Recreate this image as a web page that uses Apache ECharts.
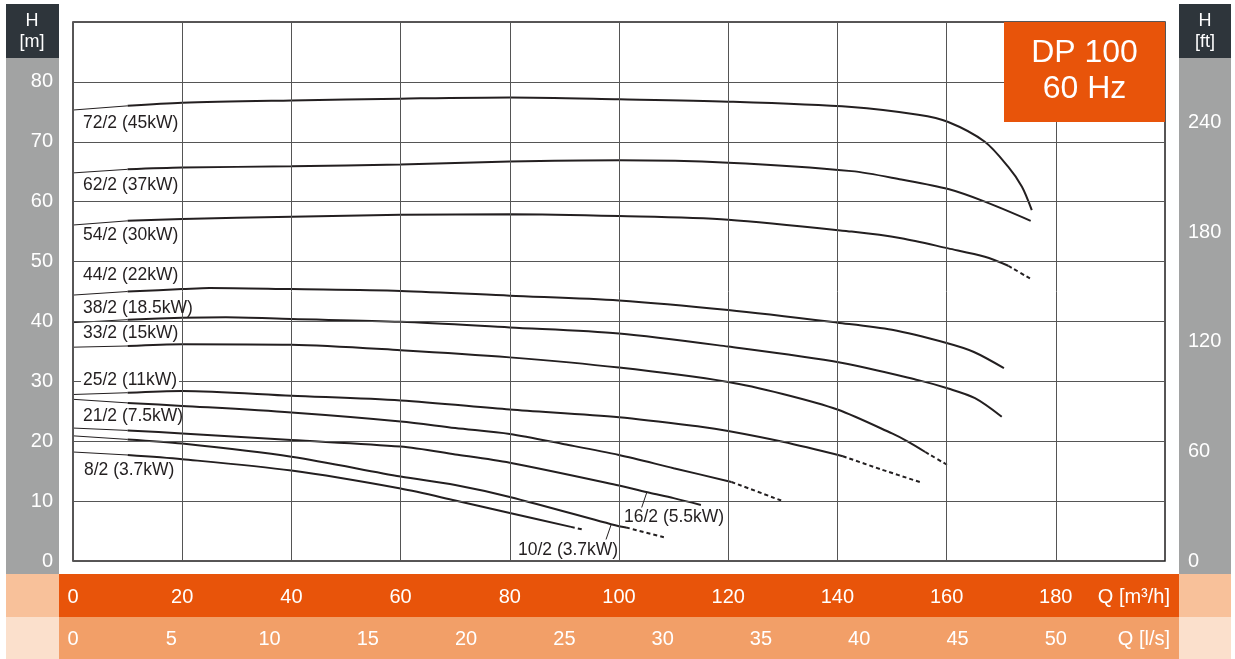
<!DOCTYPE html>
<html>
<head>
<meta charset="utf-8">
<script src="https://cdn.jsdelivr.net/npm/echarts@6/dist/echarts.min.js"></script>
<style>
html,body{margin:0;padding:0;background:#fff;}
#chart{width:1235px;height:659px;}
</style>
</head>
<body>
<div id="chart"></div>
<script>
// ---- data (Q in m3/h, H in m) ----
const c72 = [[0,75.3],[10,76.0],[20,76.5],[40,76.9],[60,77.2],[80,77.4],[100,77.1],[120,76.7],[142.6,75.8],[154.8,74.5],[160.3,73.3],[167,70.0],[171.3,65.8],[173.8,62.5],[175.6,58.6]];
const c62 = [[0,64.8],[10,65.4],[20,65.7],[40,65.9],[60,66.2],[80,66.7],[100,66.9],[120,66.5],[142.6,65.1],[151.7,63.7],[160.3,62.1],[167,60.0],[175.4,56.8]];
const c54 = [[0,56.1],[10,56.8],[20,57.1],[40,57.5],[60,57.8],[80,57.9],[100,57.6],[120,57.0],[142.6,55.0],[151.7,53.9],[160.3,52.2],[167,50.8],[171.3,49.3]];
const d54 = [[171.3,49.3],[175.4,47.1]];
const c44 = [[0,44.4],[10,45.0],[20,45.4],[25,45.6],[40,45.4],[60,45.1],[80,44.3],[100,43.5],[120,41.9],[140,39.8],[150,38.6],[160,36.4],[165,34.9],[170.5,32.2]];
const c38 = [[0,39.8],[10,40.3],[20,40.6],[28,40.7],[40,40.4],[60,39.95],[80,39.0],[100,38.0],[120,35.8],[140.7,33.1],[154.8,30.2],[160.3,28.8],[165.2,27.2],[170.1,24.1]];
const c33 = [[0,35.7],[10,35.9],[20,36.2],[40,36.1],[60,35.2],[80,34.0],[100,32.3],[120,29.9],[130,27.9],[140,25.3],[150,21.3],[153,19.9],[156.1,18.2]];
const d33 = [[156.1,18.2],[160.2,16.0]];
const c25 = [[0,27.8],[10,28.1],[20,28.4],[40,27.6],[60,26.8],[80,25.3],[100,24.0],[115,22.4],[120,21.7],[130,19.9],[141,17.5]];
const d25 = [[141,17.5],[148,15.3],[155.4,13.1]];
const c21 = [[0,27.0],[10,26.4],[20,25.9],[40,24.8],[60,23.3],[70,22.2],[80,21.2],[90,19.5],[100,17.7],[110,15.5],[120.6,13.2]];
const d21 = [[120.6,13.2],[129.7,10.1]];
const c16 = [[0,22.2],[10,21.8],[20,21.3],[40,20.2],[60,19.1],[70,17.8],[80,16.4],[100,12.6],[105.6,11.4],[110,10.5],[115,9.35]];
const c10 = [[0,20.9],[10,20.3],[20,19.6],[40,17.4],[60,14.1],[70,12.7],[80,10.7],[100,5.8],[101.3,5.6]];
const d10 = [[101.3,5.6],[108.3,3.95]];
const c8 = [[0,18.2],[10,17.7],[20,17.0],[40,15.1],[60,12.1],[70,10.1],[80,8.0],[91.2,5.7]];
const d8 = [[91.2,5.7],[93.6,5.2]];

const curveLabels = ['72/2 (45kW)','62/2 (37kW)','54/2 (30kW)','44/2 (22kW)','38/2 (18.5kW)','33/2 (15kW)','25/2 (11kW)','21/2 (7.5kW)','8/2 (3.7kW)','16/2 (5.5kW)','10/2 (3.7kW)'];
const flowTicksM3h = [0,20,40,60,80,100,120,140,160,180];
const flowTicksLs = [0,5,10,15,20,25,30,35,40,45,50];
const headTicksM = [0,10,20,30,40,50,60,70,80];
const headTicksFt = [0,60,120,180,240];
const title = ['DP 100','60 Hz'];

// ---- build ----
const INK = '#231f20';
const FONT = 'Liberation Sans, Arial, sans-serif';
const series = [];
function addCurve(pts, dashed) {
  const head = pts.filter(p => p[0] <= 10);
  const body = pts.filter(p => p[0] >= 10);
  series.push({type:'line', xAxisIndex:0, yAxisIndex:0, data:head, symbol:'none', silent:true,
    lineStyle:{color:INK, width:1}, z:5});
  series.push({type:'line', xAxisIndex:0, yAxisIndex:0, data:body, symbol:'none', silent:true,
    smooth:0.3, lineStyle:{color:INK, width:2}, z:5});
  if (dashed) series.push({type:'line', xAxisIndex:0, yAxisIndex:0, data:dashed, symbol:'none', silent:true,
    smooth:0.3, lineStyle:{color:INK, width:2, type:[4,3]}, z:5});
}
addCurve(c72); addCurve(c62); addCurve(c54, d54); addCurve(c44); addCurve(c38);
addCurve(c33, d33); addCurve(c25, d25); addCurve(c21, d21); addCurve(c16);
addCurve(c10, d10); addCurve(c8, d8);

const M_TO_FT = 3.28084;
const LS_PER_M3H = 1/3.6;

const labelPos = [[83,123],[83,185],[83,235],[83,275],[83,308],[83,333],[83,380],[83,416],[84,470],[624,517],[518,550]];
const graphics = [
  // bands
  {type:'rect', z:-5, shape:{x:6,y:4,width:53,height:54}, style:{fill:'#2e353b'}},
  {type:'rect', z:-5, shape:{x:6,y:58,width:53,height:516}, style:{fill:'#a2a3a3'}},
  {type:'rect', z:-5, shape:{x:1179,y:4,width:52,height:54}, style:{fill:'#2e353b'}},
  {type:'rect', z:-5, shape:{x:1179,y:58,width:52,height:516}, style:{fill:'#a2a3a3'}},
  {type:'rect', z:-5, shape:{x:6,y:574,width:53,height:43}, style:{fill:'#f8c19a'}},
  {type:'rect', z:-5, shape:{x:59,y:574,width:1120,height:43}, style:{fill:'#e8540a'}},
  {type:'rect', z:-5, shape:{x:1179,y:574,width:52,height:43}, style:{fill:'#f8c19a'}},
  {type:'rect', z:-5, shape:{x:6,y:617,width:53,height:42}, style:{fill:'#fbe0cc'}},
  {type:'rect', z:-5, shape:{x:59,y:617,width:1120,height:42}, style:{fill:'#f29f68'}},
  {type:'rect', z:-5, shape:{x:1179,y:617,width:52,height:42}, style:{fill:'#fbe0cc'}},
  // unit headers
  {type:'text', z:50, style:{x:32,y:21,text:'H',fill:'#fff',font:'18px '+FONT,align:'center',verticalAlign:'middle'}},
  {type:'text', z:50, style:{x:32,y:42,text:'[m]',fill:'#fff',font:'18px '+FONT,align:'center',verticalAlign:'middle'}},
  {type:'text', z:50, style:{x:1205,y:21,text:'H',fill:'#fff',font:'18px '+FONT,align:'center',verticalAlign:'middle'}},
  {type:'text', z:50, style:{x:1205,y:42,text:'[ft]',fill:'#fff',font:'18px '+FONT,align:'center',verticalAlign:'middle'}},
  {type:'text', z:50, style:{x:1170,y:597,text:'Q [m³/h]',fill:'#fff',font:'20px '+FONT,align:'right',verticalAlign:'middle'}},
  {type:'text', z:50, style:{x:1170,y:639,text:'Q [l/s]',fill:'#fff',font:'20px '+FONT,align:'right',verticalAlign:'middle'}},
  // title box
  {type:'rect', z:60, shape:{x:1004,y:22,width:161,height:100}, style:{fill:'#e8540a'}},
  {type:'text', z:61, style:{x:1084.5,y:53,text:title[0],fill:'#fff',font:'32px '+FONT,align:'center',verticalAlign:'middle'}},
  {type:'text', z:61, style:{x:1084.5,y:89,text:title[1],fill:'#fff',font:'32px '+FONT,align:'center',verticalAlign:'middle'}},
  // leader lines
  {type:'line', z:20, shape:{x1:646.7,y1:492.7,x2:641.7,y2:507.5}, style:{stroke:INK,lineWidth:1}},
  {type:'line', z:20, shape:{x1:611,y1:525,x2:606,y2:539.5}, style:{stroke:INK,lineWidth:1}}
];
curveLabels.forEach((t,i) => {
  const st = {x:labelPos[i][0], y:labelPos[i][1], text:t, fill:INK, font:'17.5px '+FONT, align:'left', verticalAlign:'middle'};
  if (i === 6) { st.backgroundColor = '#fff'; st.padding = [0,2,0,2]; st.x = 81; }
  graphics.push({type:'text', z:20, style:st});
});

const chart = echarts.init(document.getElementById('chart'), null, {renderer:'canvas'});
chart.setOption({
  animation:false,
  backgroundColor:'#fff',
  grid:{left:73, right:70, top:22, bottom:98, show:true, borderColor:INK, borderWidth:1.5, backgroundColor:'#fff', z:0},
  xAxis:[
    {type:'value', min:0, max:200, interval:20, position:'bottom', z:10,
      axisLine:{show:false}, axisTick:{show:false},
      splitLine:{show:true, lineStyle:{color:'#555', width:1}},
      axisLabel:{margin:26, color:'#fff', fontSize:20, fontFamily:FONT,
        formatter:v => flowTicksM3h.includes(v) ? String(v) : ''}},
    {type:'value', min:0, max:200*LS_PER_M3H, interval:5, position:'bottom', z:10,
      axisLine:{show:false}, axisTick:{show:false}, splitLine:{show:false},
      axisLabel:{margin:68, color:'#fff', fontSize:20, fontFamily:FONT, showMaxLabel:false,
        formatter:v => flowTicksLs.includes(Math.round(v*1000)/1000) ? String(v) : ''}}
  ],
  yAxis:[
    {type:'value', min:0, max:90, interval:10, position:'left', z:10,
      axisLine:{show:false}, axisTick:{show:false},
      splitLine:{show:true, lineStyle:{color:'#555', width:1}},
      axisLabel:{margin:20, color:'#fff', fontSize:20, fontFamily:FONT,
        formatter:v => headTicksM.includes(v) ? String(v) : ''}},
    {type:'value', min:0, max:90*M_TO_FT, interval:60, position:'right', z:10,
      axisLine:{show:false}, axisTick:{show:false}, splitLine:{show:false},
      axisLabel:{margin:23, color:'#fff', fontSize:20, fontFamily:FONT, showMaxLabel:false,
        formatter:v => headTicksFt.includes(Math.round(v)) ? String(Math.round(v)) : ''}}
  ],
  series: series,
  graphic: graphics
});
</script>
</body>
</html>
